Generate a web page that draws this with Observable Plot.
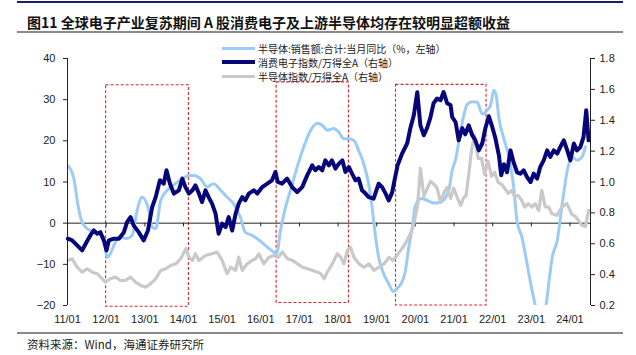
<!DOCTYPE html>
<html>
<head>
<meta charset="utf-8">
<script src="https://cdn.jsdelivr.net/npm/d3@7"></script>
<script src="https://cdn.jsdelivr.net/npm/@observablehq/plot@0.6"></script>
<style>
  body { margin: 0; background: #fff; }
  #wrap { position: relative; width: 636px; height: 355px; overflow: hidden; background: #fff; font-family: "Noto Sans CJK SC", "Liberation Sans", sans-serif; }
  .abs { position: absolute; }
  .leg { position: absolute; left: 222px; height: 14px; display: flex; align-items: center; font-size: 10px; color: #222; white-space: nowrap; }
  .leg .sw { width: 33px; margin-right: 3px; }
</style>
</head>
<body>
<div id="wrap">
  <div class="abs" style="left:17px;top:1px;width:606px;height:2px;background:#1c1c6e"></div>
  <div class="abs" style="left:27px;top:14px;font-size:14px;font-weight:bold;line-height:16px;color:#111;white-space:nowrap">图11 全球电子产业复苏期间 A 股消费电子及上游半导体均存在较明显超额收益</div>
  <div class="abs" style="left:17px;top:31px;width:606px;height:2px;background:#8a8a8a"></div>
  <div id="chart" class="abs" style="left:0;top:0"></div>
  <div id="legend"></div>
  <div class="abs" style="left:17px;top:332px;width:606px;height:2px;background:#8a8a8a"></div>
  <div class="abs" style="left:27px;top:337px;font-size:11.5px;line-height:14px;color:#222;white-space:nowrap">资料来源：Wind，海通证券研究所</div>
</div>
<script>
// ---------- data (time as decimal year) ----------
const seriesNames = ["半导体:销售额:合计:当月同比（%，左轴）", "消费电子指数/万得全A（右轴）", "半导体指数/万得全A（右轴）"];

// Semiconductor sales YoY (%), left axis
const salesT = [2011.01,2011.16,2011.28,2011.38,2011.59,2011.77,2011.93,2012.03,2012.11,2012.22,2012.32,2012.54,2012.67,2012.80,2012.93,2013.08,2013.19,2013.28,2013.41,2013.58,2013.79,2013.97,2014.14,2014.27,2014.44,2014.61,2014.78,2014.96,2015.13,2015.30,2015.47,2015.60,2015.78,2015.91,2016.17,2016.34,2016.41,2016.51,2016.64,2016.77,2016.94,2017.11,2017.29,2017.46,2017.59,2017.72,2017.89,2018.02,2018.15,2018.28,2018.41,2018.53,2018.66,2018.79,2018.88,2018.97,2019.05,2019.18,2019.31,2019.43,2019.54,2019.61,2019.74,2019.83,2019.92,2020.00,2020.16,2020.31,2020.48,2020.65,2020.86,2020.95,2021.04,2021.17,2021.34,2021.47,2021.60,2021.73,2021.86,2021.94,2022.03,2022.09,2022.16,2022.29,2022.42,2022.54,2022.63,2022.76,2022.89,2023.02,2023.13,2023.24,2023.36,2023.45,2023.54,2023.67,2023.80,2023.93,2024.05,2024.18,2024.31,2024.40];
const salesV = [14,11,3.9,0.2,-1.8,-2.2,-3.4,-8.3,-7.4,-5,-3.4,-3.7,-3,3.1,6.3,3.9,-1,-1.3,5.5,8,9.6,10.8,11.6,11.6,10.8,8.8,9.6,8,6.3,4.7,1.5,-2.2,-3,-3.8,-5.8,-7.1,-7.4,-1.8,3.9,8,13.6,18.5,22.6,24.3,23.8,22.6,23,22.1,20.5,20.5,20.1,17.7,14.5,9.6,3.9,-3.4,-8.3,-12.3,-14.7,-16.6,-15.7,-15,-11.7,-5.8,-1,4.2,6,5.5,4.9,5.1,7.8,12.8,15.5,22.5,28.8,29.5,29.4,26.5,27.5,28.5,32.3,31,25.5,20.5,16,9,0.5,-3.5,-9.9,-16.4,-21,-23,-21,-14.7,-8.3,-4.2,4.7,12.8,16.1,15.3,16.1,18.5];

// Consumer electronics index / Wind All A, right axis
const consT = [2011.01,2011.12,2011.25,2011.38,2011.47,2011.59,2011.68,2011.77,2011.85,2011.94,2012.01,2012.07,2012.20,2012.33,2012.46,2012.54,2012.63,2012.71,2012.84,2012.97,2013.08,2013.19,2013.28,2013.39,2013.49,2013.56,2013.65,2013.75,2013.88,2013.97,2014.05,2014.14,2014.23,2014.31,2014.40,2014.48,2014.57,2014.65,2014.74,2014.83,2014.91,2015.00,2015.09,2015.17,2015.26,2015.35,2015.43,2015.52,2015.60,2015.69,2015.82,2015.91,2016.04,2016.17,2016.29,2016.38,2016.44,2016.55,2016.68,2016.81,2016.94,2017.07,2017.20,2017.33,2017.41,2017.50,2017.59,2017.67,2017.76,2017.84,2017.93,2018.02,2018.11,2018.19,2018.28,2018.36,2018.45,2018.53,2018.62,2018.71,2018.79,2018.92,2019.05,2019.14,2019.23,2019.31,2019.40,2019.46,2019.54,2019.66,2019.79,2019.87,2019.96,2020.05,2020.13,2020.22,2020.30,2020.39,2020.47,2020.56,2020.65,2020.73,2020.82,2020.91,2020.95,2021.04,2021.12,2021.21,2021.29,2021.38,2021.47,2021.55,2021.64,2021.73,2021.81,2021.90,2021.99,2022.07,2022.16,2022.22,2022.29,2022.37,2022.46,2022.54,2022.63,2022.72,2022.80,2022.89,2022.98,2023.06,2023.15,2023.23,2023.32,2023.41,2023.49,2023.58,2023.67,2023.75,2023.84,2023.93,2024.01,2024.10,2024.18,2024.27,2024.35,2024.42,2024.48];
const consV = [0.633,0.622,0.589,0.557,0.600,0.654,0.686,0.665,0.675,0.622,0.557,0.622,0.633,0.633,0.675,0.740,0.773,0.719,0.675,0.622,0.686,0.838,0.902,1.011,0.989,1.076,0.989,0.925,0.946,1.022,0.967,0.925,0.946,0.978,0.925,0.870,0.946,0.902,0.860,0.795,0.665,0.730,0.708,0.773,0.686,0.795,0.860,0.902,0.881,0.925,0.946,0.925,0.967,0.989,1.011,1.065,1.000,0.989,1.022,0.967,0.935,0.967,1.043,1.108,1.076,1.097,1.076,1.140,1.108,1.140,1.087,1.119,1.140,1.065,1.097,1.054,1.011,1.022,0.946,0.925,0.902,0.892,0.989,0.967,0.925,0.881,0.933,1.011,1.108,1.186,1.251,1.348,1.432,1.582,1.367,1.303,1.348,1.419,1.510,1.541,1.530,1.583,1.510,1.497,1.421,1.387,1.270,1.348,1.309,1.367,1.303,1.270,1.205,1.251,1.348,1.426,1.355,1.283,1.173,1.043,1.115,1.063,1.205,1.128,1.063,1.054,1.076,1.032,1.000,1.054,1.022,1.097,1.140,1.205,1.162,1.205,1.184,1.227,1.270,1.205,1.140,1.249,1.205,1.227,1.292,1.465,1.270];

// Semiconductor index / Wind All A, right axis
const semiT = [2011.01,2011.12,2011.25,2011.38,2011.51,2011.64,2011.77,2011.90,2011.98,2012.11,2012.24,2012.37,2012.50,2012.63,2012.76,2012.89,2013.02,2013.15,2013.28,2013.41,2013.54,2013.67,2013.80,2013.93,2014.06,2014.14,2014.23,2014.31,2014.40,2014.57,2014.74,2014.87,2015.00,2015.13,2015.22,2015.35,2015.43,2015.52,2015.65,2015.78,2015.87,2015.95,2016.08,2016.21,2016.34,2016.45,2016.56,2016.69,2016.82,2016.95,2017.08,2017.21,2017.34,2017.47,2017.55,2017.64,2017.72,2017.85,2017.98,2018.07,2018.15,2018.24,2018.32,2018.41,2018.54,2018.67,2018.80,2018.93,2019.06,2019.19,2019.32,2019.41,2019.49,2019.62,2019.75,2019.88,2019.96,2020.06,2020.13,2020.22,2020.31,2020.39,2020.48,2020.56,2020.65,2020.73,2020.82,2020.91,2020.99,2021.08,2021.17,2021.25,2021.31,2021.37,2021.45,2021.53,2021.62,2021.71,2021.79,2021.88,2021.97,2022.05,2022.14,2022.23,2022.31,2022.40,2022.49,2022.57,2022.66,2022.75,2022.83,2022.92,2023.01,2023.10,2023.19,2023.27,2023.36,2023.45,2023.53,2023.66,2023.79,2023.92,2024.05,2024.14,2024.22,2024.31,2024.40,2024.48];
const semiV = [0.492,0.503,0.448,0.416,0.438,0.416,0.406,0.373,0.351,0.373,0.384,0.362,0.362,0.384,0.351,0.330,0.319,0.341,0.373,0.427,0.438,0.459,0.470,0.503,0.568,0.513,0.492,0.535,0.492,0.524,0.535,0.546,0.492,0.406,0.448,0.427,0.513,0.427,0.470,0.492,0.503,0.535,0.470,0.513,0.524,0.513,0.546,0.503,0.492,0.470,0.448,0.438,0.427,0.416,0.406,0.373,0.416,0.470,0.535,0.513,0.470,0.557,0.578,0.513,0.470,0.448,0.470,0.427,0.448,0.470,0.513,0.492,0.513,0.557,0.605,0.670,0.725,0.855,1.089,0.907,0.959,1.004,0.985,0.962,0.868,0.926,0.965,0.894,0.959,0.900,0.849,0.900,0.913,1.030,1.205,1.303,1.153,1.153,1.050,1.134,1.037,1.063,0.998,0.985,0.959,0.926,0.946,0.902,0.913,0.881,0.838,0.860,0.838,0.860,0.816,0.946,0.838,0.838,0.795,0.784,0.838,0.860,0.790,0.777,0.751,0.719,0.712,0.816,0.838];

// Highlighted recovery periods (decimal years) and their box extents on the left axis
const periodStart = [2012.00, 2016.41, 2019.50];
const periodEnd   = [2014.14, 2018.28, 2021.84];
const periodTop   = [33.5, 34.2, 33.6];
const periodBottom= [-20.3, -19.4, -20.0];

// Axes
const leftTicks = [-20, -10, 0, 10, 20, 30, 40];
const rightTicks = [0.2, 0.4, 0.6, 0.8, 1.0, 1.2, 1.4, 1.6, 1.8];
const xTickYears = d3.range(2011, 2025);
const xDomainYears = [2011.0, 2024.53];

// ---------- helpers ----------
const toDate = t => { const y = Math.floor(t); const s = Date.UTC(y, 0, 1), e = Date.UTC(y + 1, 0, 1); return new Date(s + (t - y) * (e - s)); };
const rightToLeft = r => (r - 0.2) * 37.5 - 20;   // right axis [0.2,1.8] -> left axis [-20,40]
const leftToRight = v => (v + 20) / 37.5 + 0.2;

const sales = salesT.map((t, i) => ({date: toDate(t), v: salesV[i]}));
const cons = consT.map((t, i) => ({date: toDate(t), v: rightToLeft(consV[i])}));
const semi = semiT.map((t, i) => ({date: toDate(t), v: rightToLeft(semiV[i])}));
const periods = periodStart.map((s, i) => ({x1: toDate(s), x2: toDate(periodEnd[i]), y1: periodBottom[i], y2: periodTop[i]}));
const xTicks = xTickYears.map(y => new Date(Date.UTC(y, 0, 1)));

const colors = ["#9ccbf6", "#06067a", "#c9c9c9"];
const axisColor = "#222";

const chart = Plot.plot({
  width: 636,
  height: 355,
  marginLeft: 67,
  marginRight: 46,
  marginTop: 58,
  marginBottom: 50,
  style: {fontFamily: "'Liberation Sans', Arial, sans-serif", fontSize: "11px", color: "#333", background: "transparent"},
  x: {type: "utc", domain: xDomainYears.map(toDate)},
  y: {domain: [-20, 40]},
  marks: [
    Plot.rect(periods, {x1: "x1", x2: "x2", y1: "y1", y2: "y2", fill: "none", stroke: "#d8262c", strokeWidth: 1.1, strokeDasharray: "3,2"}),
    Plot.ruleY([0], {stroke: axisColor, strokeWidth: 1}),
    Plot.ruleX(xTicks, {x: d => d, y1: 0, y2: -0.9, stroke: axisColor, strokeWidth: 1}),
    Plot.line(sales, {x: "date", y: "v", stroke: colors[0], strokeWidth: 3, curve: "monotone-x", clip: true}),
    Plot.line(semi, {x: "date", y: "v", stroke: colors[2], strokeWidth: 3.2}),
    Plot.line(cons, {x: "date", y: "v", stroke: colors[1], strokeWidth: 4}),
    Plot.ruleX([toDate(xDomainYears[0])], {stroke: axisColor, strokeWidth: 1}),
    Plot.ruleX([toDate(xDomainYears[1])], {stroke: axisColor, strokeWidth: 1}),
    Plot.axisY(leftTicks, {anchor: "left", tickSize: 4, tickPadding: 8, stroke: axisColor, fill: "#222", label: null}),
    Plot.axisY(rightTicks.map(rightToLeft), {anchor: "right", tickSize: 4, tickPadding: 5, stroke: axisColor, fill: "#222", label: null, tickFormat: d => leftToRight(d).toFixed(1)}),
    Plot.axisX(xTicks, {anchor: "bottom", tickSize: 0, tickPadding: 10, fill: "#222", label: null, tickFormat: d3.utcFormat("%y/%m")})
  ]
});
document.getElementById("chart").appendChild(chart);

// legend
const legend = document.getElementById("legend");
const legTops = [41, 55, 69];
const swH = [3, 4, 3];
seriesNames.forEach((name, i) => {
  const row = document.createElement("div");
  row.className = "leg";
  row.style.top = legTops[i] + "px";
  row.innerHTML = `<span class="sw" style="height:${swH[i]}px;background:${colors[i]}"></span><span>${name}</span>`;
  legend.appendChild(row);
});
</script>
</body>
</html>
